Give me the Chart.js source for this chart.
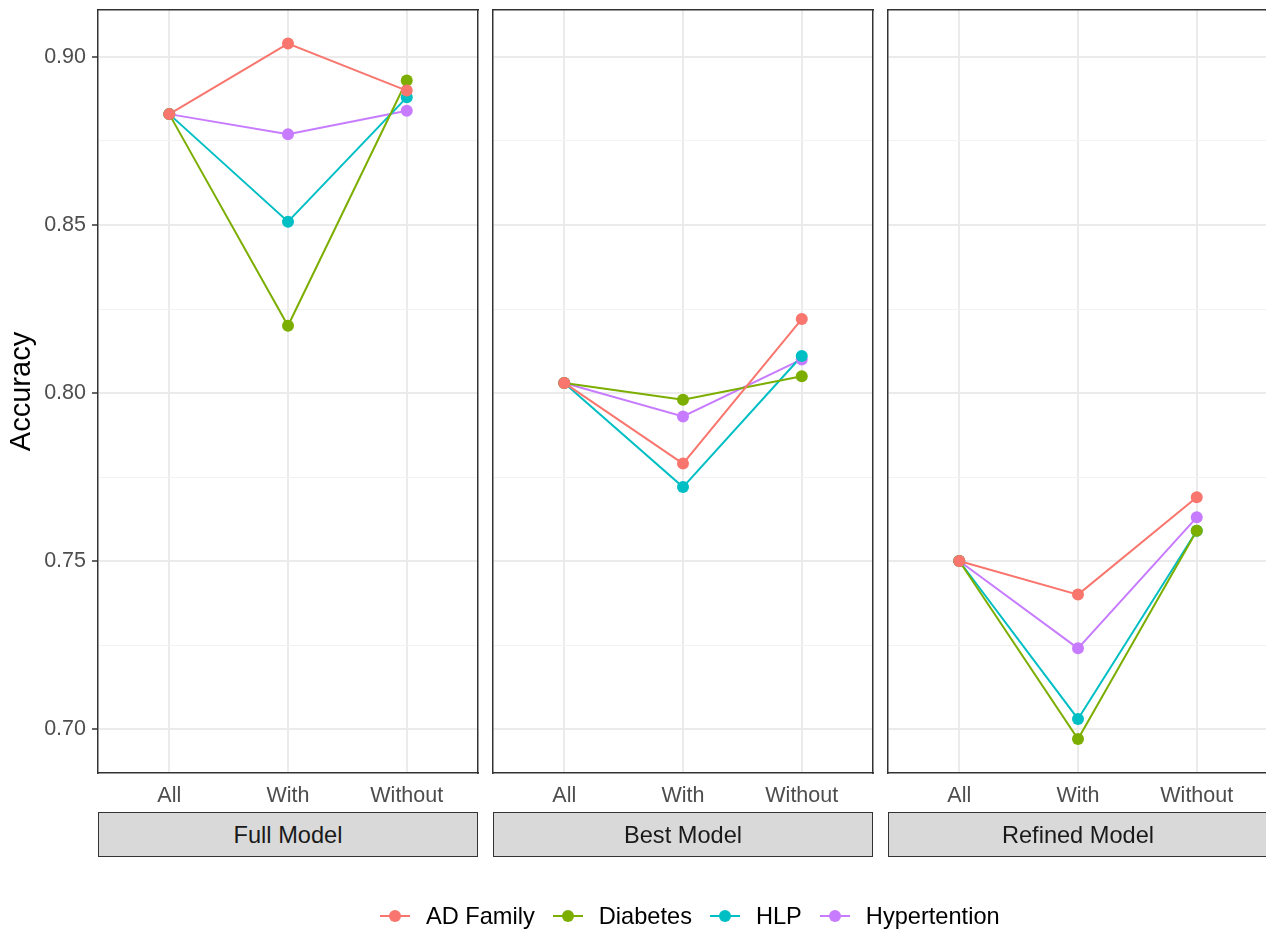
<!DOCTYPE html>
<html>
<head>
<meta charset="utf-8">
<script src="https://cdn.jsdelivr.net/npm/chart.js@4.4.1/dist/chart.umd.min.js"></script>
<style>
html,body{margin:0;padding:0;width:1266px;height:933px;overflow:hidden;background:#fff;font-family:'Liberation Sans',Arial,sans-serif;}
body{position:relative;}
canvas{position:absolute;top:0;}
.strip{position:absolute;top:812px;height:45px;width:380px;box-sizing:border-box;border:1px solid #333;background:#D9D9D9;color:#1A1A1A;font-size:23.6px;display:flex;align-items:center;justify-content:center;padding-top:2px;}
#legend{position:absolute;top:904px;left:380px;height:24px;display:flex;align-items:center;font-size:23.6px;color:#000;white-space:nowrap;}
.item{display:flex;align-items:center;margin-right:18px;}
.key{position:relative;width:30px;height:24px;margin-right:16px;}
.kline{position:absolute;left:0;right:0;top:11px;height:2px;}
.kdot{position:absolute;left:9px;top:6px;width:12px;height:12px;border-radius:50%;}
</style>
</head>
<body>
<canvas id="c0" width="485" height="933" style="left:0px"></canvas>
<canvas id="c1" width="395" height="933" style="left:485px"></canvas>
<canvas id="c2" width="395" height="933" style="left:880px"></canvas>
<div class="strip" id="s0" style="left:98px"></div>
<div class="strip" id="s1" style="left:493px"></div>
<div class="strip" id="s2" style="left:888px"></div>
<div id="legend"></div>
<script>
// ---- data ----
const categories = ['All', 'With', 'Without'];
const panelNames = ['Full Model', 'Best Model', 'Refined Model'];
const seriesNames = ['AD Family', 'Diabetes', 'HLP', 'Hypertention'];
const seriesColors = ['#F8766D', '#7CAE00', '#00BFC4', '#C77CFF'];

const fullADFamily      = [0.883, 0.904, 0.890];
const fullDiabetes      = [0.883, 0.820, 0.893];
const fullHLP           = [0.883, 0.851, 0.888];
const fullHypertention  = [0.883, 0.877, 0.884];

const bestADFamily      = [0.803, 0.779, 0.822];
const bestDiabetes      = [0.803, 0.798, 0.805];
const bestHLP           = [0.803, 0.772, 0.811];
const bestHypertention  = [0.803, 0.793, 0.810];

const refinedADFamily     = [0.750, 0.740, 0.769];
const refinedDiabetes     = [0.750, 0.697, 0.759];
const refinedHLP          = [0.750, 0.703, 0.759];
const refinedHypertention = [0.750, 0.724, 0.763];

const yMajorTicks = [0.70, 0.75, 0.80, 0.85, 0.90];
const yMinorTicks = [0.725, 0.775, 0.825, 0.875];
const yAxisLabel = 'Accuracy';

const panelSeries = [
  [fullADFamily, fullDiabetes, fullHLP, fullHypertention],
  [bestADFamily, bestDiabetes, bestHLP, bestHypertention],
  [refinedADFamily, refinedDiabetes, refinedHLP, refinedHypertention]
];

// ---- rendering ----
Chart.defaults.font.family = "'Liberation Sans', Arial, sans-serif";
const Y_MIN = 0.686905, Y_MAX = 0.913988;
const isMajor = v => yMajorTicks.some(t => Math.abs(t - v) < 1e-9);
const noPad = s => { s.paddingTop = 0; s.paddingBottom = 0; s.paddingLeft = 0; s.paddingRight = 0; };

function makePanel(idx) {
  const first = idx === 0;
  const datasets = [];
  panelSeries[idx].forEach((vals, s) => {
    const pts = vals.map((v, i) => ({x: i, y: v}));
    datasets.push({
      label: seriesNames[s] + ' line', data: pts, showLine: true,
      borderColor: seriesColors[s], borderWidth: 2, pointRadius: 0, pointHoverRadius: 0,
      order: 100 + s
    });
    datasets.push({
      label: seriesNames[s], data: pts, showLine: false,
      backgroundColor: seriesColors[s], pointBackgroundColor: seriesColors[s],
      pointBorderWidth: 0, pointRadius: 6, pointHoverRadius: 6,
      order: s
    });
  });
  const borderOpt = {color: '#333333', width: 1.5};
  new Chart(document.getElementById('c' + idx), {
    type: 'scatter',
    data: {datasets},
    options: {
      responsive: false, animation: false, events: [],
      layout: {padding: {left: first ? 0 : 8, right: 7, top: 10, bottom: 120}},
      plugins: {legend: {display: false}, tooltip: {enabled: false}},
      scales: {
        x: {
          type: 'linear', position: 'bottom', min: -0.6, max: 2.6,
          afterBuildTicks: s => { s.ticks = categories.map((c, i) => ({value: i})); },
          ticks: {callback: (v, i) => categories[i], color: '#4D4D4D', font: {size: 21.5}, padding: 10, maxRotation: 0, autoSkip: false},
          grid: {color: '#EBEBEB', lineWidth: 2, drawTicks: false},
          border: borderOpt,
          afterFit: s => { s.height = 40; noPad(s); }
        },
        xTop: {
          type: 'linear', position: 'top', display: true, min: 0, max: 1,
          grid: {display: false, drawTicks: false}, ticks: {display: false},
          border: borderOpt, afterFit: s => { s.height = 0; noPad(s); }
        },
        y: {
          type: 'linear', position: 'left', min: Y_MIN, max: Y_MAX,
          afterBuildTicks: s => { s.ticks = yMajorTicks.concat(yMinorTicks).sort((a, b) => a - b).map(v => ({value: v})); },
          ticks: {display: first, callback: v => isMajor(v) ? v.toFixed(2) : '', color: '#4D4D4D', font: {size: 21.5}, padding: 6, autoSkip: false},
          grid: {
            color: c => (c.tick && isMajor(c.tick.value)) ? '#EBEBEB' : '#F2F2F2',
            lineWidth: c => (c.tick && isMajor(c.tick.value)) ? 2 : 1,
            drawTicks: first, tickLength: 6, tickWidth: 1.5,
            tickColor: c => (c.tick && isMajor(c.tick.value)) ? '#333333' : 'rgba(0,0,0,0)'
          },
          border: borderOpt,
          title: first ? {display: true, text: yAxisLabel, color: '#000000', font: {size: 29}, padding: {top: 5, bottom: 0}} : {display: false},
          afterFit: s => { s.width = first ? 98 : 0; noPad(s); }
        },
        yRight: {
          type: 'linear', position: 'right', display: true, min: 0, max: 1,
          grid: {display: false, drawTicks: false}, ticks: {display: false},
          border: borderOpt, afterFit: s => { s.width = 0; noPad(s); }
        }
      }
    }
  });
  document.getElementById('s' + idx).textContent = panelNames[idx];
}
[0, 1, 2].forEach(makePanel);

// legend
const lg = document.getElementById('legend');
seriesNames.forEach((n, s) => {
  const it = document.createElement('div'); it.className = 'item';
  it.innerHTML = '<div class="key"><span class="kline" style="background:' + seriesColors[s] + '"></span><span class="kdot" style="background:' + seriesColors[s] + '"></span></div><span></span>';
  it.lastChild.textContent = n;
  lg.appendChild(it);
});
</script>
</body>
</html>
